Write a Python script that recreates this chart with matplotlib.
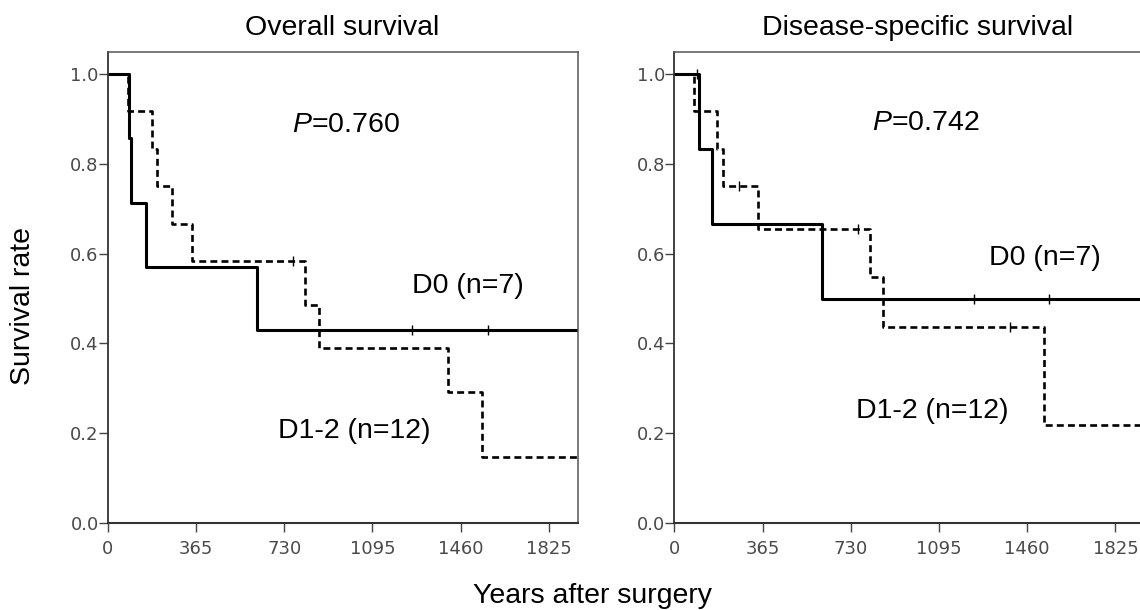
import numpy as np
import matplotlib
matplotlib.use("Agg")
import matplotlib.pyplot as plt

plt.rcParams['font.family'] = ['Liberation Sans', 'DejaVu Sans']
plt.rcParams['mathtext.fontset'] = 'custom'
plt.rcParams['mathtext.it'] = 'Liberation Sans:italic'
plt.rcParams['mathtext.rm'] = 'Liberation Sans'
plt.rcParams['lines.scale_dashes'] = False

# Overall survival (days, survival fraction)
os_d0_t = [0, 90, 95, 157, 619, 1950]
os_d0_s = [1.0, 0.857, 0.714, 0.571, 0.429, 0.429]
os_d0_cens_t = [1258, 1575]
os_d0_cens_s = [0.429, 0.429]

os_d12_t = [0, 83, 182, 203, 267, 348, 816, 874, 1407, 1550, 1950]
os_d12_s = [1.0, 0.917, 0.833, 0.75, 0.667, 0.583, 0.486, 0.389, 0.292, 0.146, 0.146]
os_d12_cens_t = [768]
os_d12_cens_s = [0.583]

# Disease-specific survival
dss_d0_t = [0, 102, 155, 611, 1960]
dss_d0_s = [1.0, 0.833, 0.667, 0.5, 0.5]
dss_d0_cens_t = [93, 1240, 1551]
dss_d0_cens_s = [1.0, 0.5, 0.5]

dss_d12_t = [0, 83, 178, 203, 346, 808, 864, 1531, 1960]
dss_d12_s = [1.0, 0.917, 0.833, 0.75, 0.656, 0.547, 0.4375, 0.219, 0.219]
dss_d12_cens_t = [268, 759, 1388]
dss_d12_cens_s = [0.75, 0.656, 0.4375]

xticks = [0, 365, 730, 1095, 1460, 1825]
yticks = [0.0, 0.2, 0.4, 0.6, 0.8, 1.0]

panels = [
    dict(title="Overall survival", p="0.760",
         d0=(os_d0_t, os_d0_s, os_d0_cens_t, os_d0_cens_s),
         d12=(os_d12_t, os_d12_s, os_d12_cens_t, os_d12_cens_s),
         ptxt=(761, 0.872), d0txt=(1258, 0.512), d12txt=(706, 0.189)),
    dict(title="Disease-specific survival", p="0.742",
         d0=(dss_d0_t, dss_d0_s, dss_d0_cens_t, dss_d0_cens_s),
         d12=(dss_d12_t, dss_d12_s, dss_d12_cens_t, dss_d12_cens_s),
         ptxt=(816, 0.876), d0txt=(1300, 0.575), d12txt=(752, 0.233)),
]

fig = plt.figure(figsize=(11.4, 6.1), dpi=100)
lefts = [0.0945, 0.5915]
title_x = [0.2997, 0.8053]
fs = 20.5

for i, pn in enumerate(panels):
    ax = fig.add_axes([lefts[i], 0.1426, 0.4128, 0.7726])
    t, s, ct, cs = pn["d0"]
    ax.step(t, s, where='post', color='black', lw=2.2)
    ax.plot(ct, cs, ls='none', marker='|', ms=7, mew=1.0, color='black')
    t, s, ct, cs = pn["d12"]
    ax.step(t, s, where='post', color='black', lw=1.9, dashes=(5, 3))
    ax.plot(ct, cs, ls='none', marker='|', ms=7, mew=1.0, color='black')

    ax.set_xlim(0, 1947)
    ax.set_ylim(0, 1.05)
    ax.set_xticks(xticks)
    ax.set_xticklabels([str(v) for v in xticks])
    ax.set_yticks(yticks)
    ax.set_yticklabels([f"{v:.1f}" for v in yticks])
    ax.tick_params(direction='out', length=6.5, width=1, color='#444444',
                   labelsize=13, labelcolor='#4a4a4a')
    ax.tick_params(axis='y', pad=0)
    ax.tick_params(axis='x', pad=6)
    for lab in ax.get_xticklabels() + ax.get_yticklabels():
        lab.set_family('DejaVu Sans')
    for sp in ax.spines.values():
        sp.set_color('#555555')
        sp.set_linewidth(1.1)
    ax.spines['left'].set_color('#333333')
    ax.spines['bottom'].set_color('#333333')
    ax.spines['bottom'].set_linewidth(1.5)
    ax.spines['left'].set_linewidth(1.3)

    ax.text(*pn["ptxt"], r"$\it{P}$=" + pn["p"], fontsize=fs, va='baseline', ha='left')
    ax.text(*pn["d0txt"], "D0 (n=7)", fontsize=fs, va='baseline', ha='left')
    ax.text(*pn["d12txt"], "D1-2 (n=12)", fontsize=fs, va='baseline', ha='left')

    fig.text(title_x[i], 0.9426, pn["title"], fontsize=fs, ha='center', va='baseline')

fig.text(0.0204, 0.498, "Survival rate", fontsize=fs, rotation=90, ha='center', va='center')
fig.text(0.5197, 0.0115, "Years after surgery", fontsize=fs, ha='center', va='baseline')

fig.savefig("out.png", dpi=100)
